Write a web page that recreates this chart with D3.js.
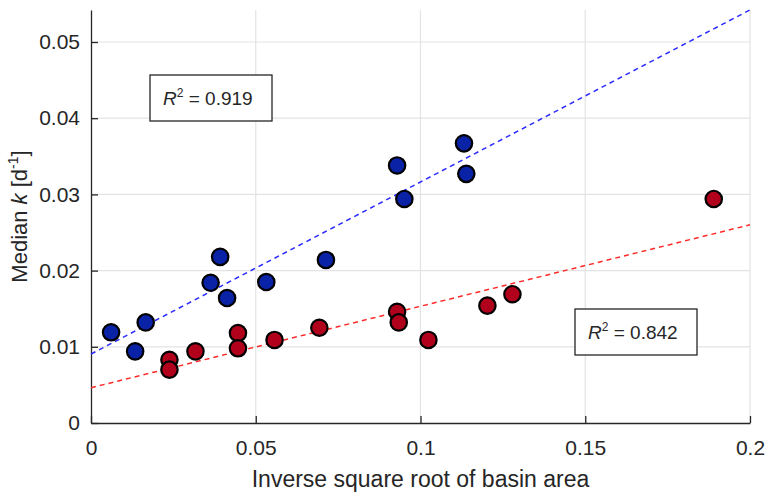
<!DOCTYPE html>
<html>
<head>
<meta charset="utf-8">
<script src="https://cdn.jsdelivr.net/npm/d3@7"></script>
<style>
    body { margin: 0; background: #fff; }
    text { font-family: Arial, "Liberation Sans", Helvetica, sans-serif; fill: #262626; }
</style>
</head>
<body>
<div id="graph"></div>
<script>
// Blue group (inverse sqrt of basin area, median k)
var blueX = [ 0.0061, 0.0134, 0.0166, 0.0363, 0.0392, 0.0413, 0.0532, 0.0713, 0.0929, 0.0951, 0.1132, 0.1139 ];
var blueY = [ 0.0119, 0.0094, 0.0132, 0.0184, 0.0218, 0.0164, 0.0185, 0.0214, 0.0338, 0.0294, 0.0367, 0.0327 ];

// Red group
var redX = [ 0.0238, 0.0238, 0.0317, 0.0446, 0.0446, 0.0557, 0.0693, 0.0929, 0.0934, 0.1024, 0.1203, 0.1279, 0.1890 ];
var redY = [ 0.0083, 0.0070, 0.0094, 0.0118, 0.0098, 0.0109, 0.0125, 0.0146, 0.0132, 0.0109, 0.0154, 0.0169, 0.0294 ];

// Fitted lines: [intercept, slope]
var blueFit = [ 0.00905, 0.2258 ];
var redFit  = [ 0.00463, 0.1069 ];

var xTicks = [ 0, 0.05, 0.1, 0.15, 0.2 ];
var yTicks = [ 0, 0.01, 0.02, 0.03, 0.04, 0.05 ];

var r2Labels = [ '0.919', '0.842' ];

var overallWidth  = 767;
var overallHeight = 492;
var margin = { top: 10, right: 17, bottom: 69, left: 91 };
var width  = overallWidth - margin.left - margin.right;
var height = overallHeight - margin.top - margin.bottom;

var svg = d3.select('#graph').append('svg')
            .attr('width', overallWidth)
            .attr('height', overallHeight)
            .append('g')
            .attr('transform', 'translate(' + margin.left + ',' + margin.top + ')');

var x = d3.scaleLinear().domain([0, 0.2]).range([0, width]);
var y = d3.scaleLinear().domain([0, 0.0542]).range([height, 0]);

// grid
svg.selectAll('.gx').data(xTicks.slice(1)).enter().append('line')
   .attr('x1', d => x(d)).attr('x2', d => x(d))
   .attr('y1', 0).attr('y2', height)
   .attr('stroke', '#e3e3e3').attr('stroke-width', 1.2);
svg.selectAll('.gy').data(yTicks.slice(1)).enter().append('line')
   .attr('x1', 0).attr('x2', width)
   .attr('y1', d => y(d)).attr('y2', d => y(d))
   .attr('stroke', '#e3e3e3').attr('stroke-width', 1.2);

// axes
var xAxis = d3.axisBottom(x).tickValues(xTicks).tickSizeInner(-7).tickSizeOuter(0)
              .tickPadding(17).tickFormat(d => d3.format('~g')(d));
var yAxis = d3.axisLeft(y).tickValues(yTicks).tickSizeInner(-7).tickSizeOuter(0)
              .tickPadding(11).tickFormat(d => d3.format('~g')(d));

var gx = svg.append('g').attr('transform', 'translate(0,' + height + ')').call(xAxis);
var gy = svg.append('g').call(yAxis);
[gx, gy].forEach(function (g) {
    g.select('.domain').attr('stroke', '#262626').attr('stroke-width', 1.3);
    g.selectAll('.tick line').attr('stroke', '#262626').attr('stroke-width', 1.3);
    g.selectAll('.tick text').style('font-size', '21px').attr('fill', '#262626');
});

// fit lines
function fitLine (fit, colour)
{
    svg.append('line')
       .attr('x1', x(0)).attr('y1', y(fit[0]))
       .attr('x2', x(0.2)).attr('y2', y(fit[0] + fit[1] * 0.2))
       .attr('stroke', colour).attr('stroke-width', 1.5)
       .attr('stroke-dasharray', '5,4');
}
fitLine(blueFit, '#2b2bff');
fitLine(redFit, '#ff2b2b');

// points
function points (xs, ys, colour)
{
    svg.selectAll(null).data(xs).enter().append('circle')
       .attr('cx', d => x(d))
       .attr('cy', (d, i) => y(ys[i]))
       .attr('r', 8.2)
       .attr('fill', colour)
       .attr('stroke', '#000').attr('stroke-width', 2.2);
}
points(blueX, blueY, '#0a22a6');
points(redX, redY, '#b0001c');

// R^2 boxes
function r2Box (bx, by, label)
{
    var g = svg.append('g').attr('transform', 'translate(' + bx + ',' + by + ')');
    g.append('rect').attr('width', 122).attr('height', 46)
     .attr('fill', '#fff').attr('stroke', '#262626').attr('stroke-width', 1.3);
    var t = g.append('text').attr('x', 13).attr('y', 30).style('font-size', '19px');
    t.append('tspan').style('font-style', 'italic').text('R');
    t.append('tspan').attr('dy', -8).style('font-size', '12px').text('2');
    t.append('tspan').attr('dy', 8).text(' = ' + label);
}
r2Box(150 - margin.left, 75 - margin.top, r2Labels[0]);
r2Box(575 - margin.left, 309 - margin.top, r2Labels[1]);

// axis titles
svg.append('text')
   .attr('x', width / 2).attr('y', height + 64)
   .attr('text-anchor', 'middle').style('font-size', '23px')
   .text('Inverse square root of basin area');

var yl = svg.append('text')
   .attr('transform', 'translate(' + (-64) + ',' + (height / 2) + ') rotate(-90)')
   .attr('text-anchor', 'middle').style('font-size', '22px');
yl.append('tspan').text('Median ');
yl.append('tspan').style('font-style', 'italic').text('k');
yl.append('tspan').text(' [d');
yl.append('tspan').attr('dy', -9).style('font-size', '14px').text('-1');
yl.append('tspan').attr('dy', 9).text(']');
</script>
</body>
</html>
